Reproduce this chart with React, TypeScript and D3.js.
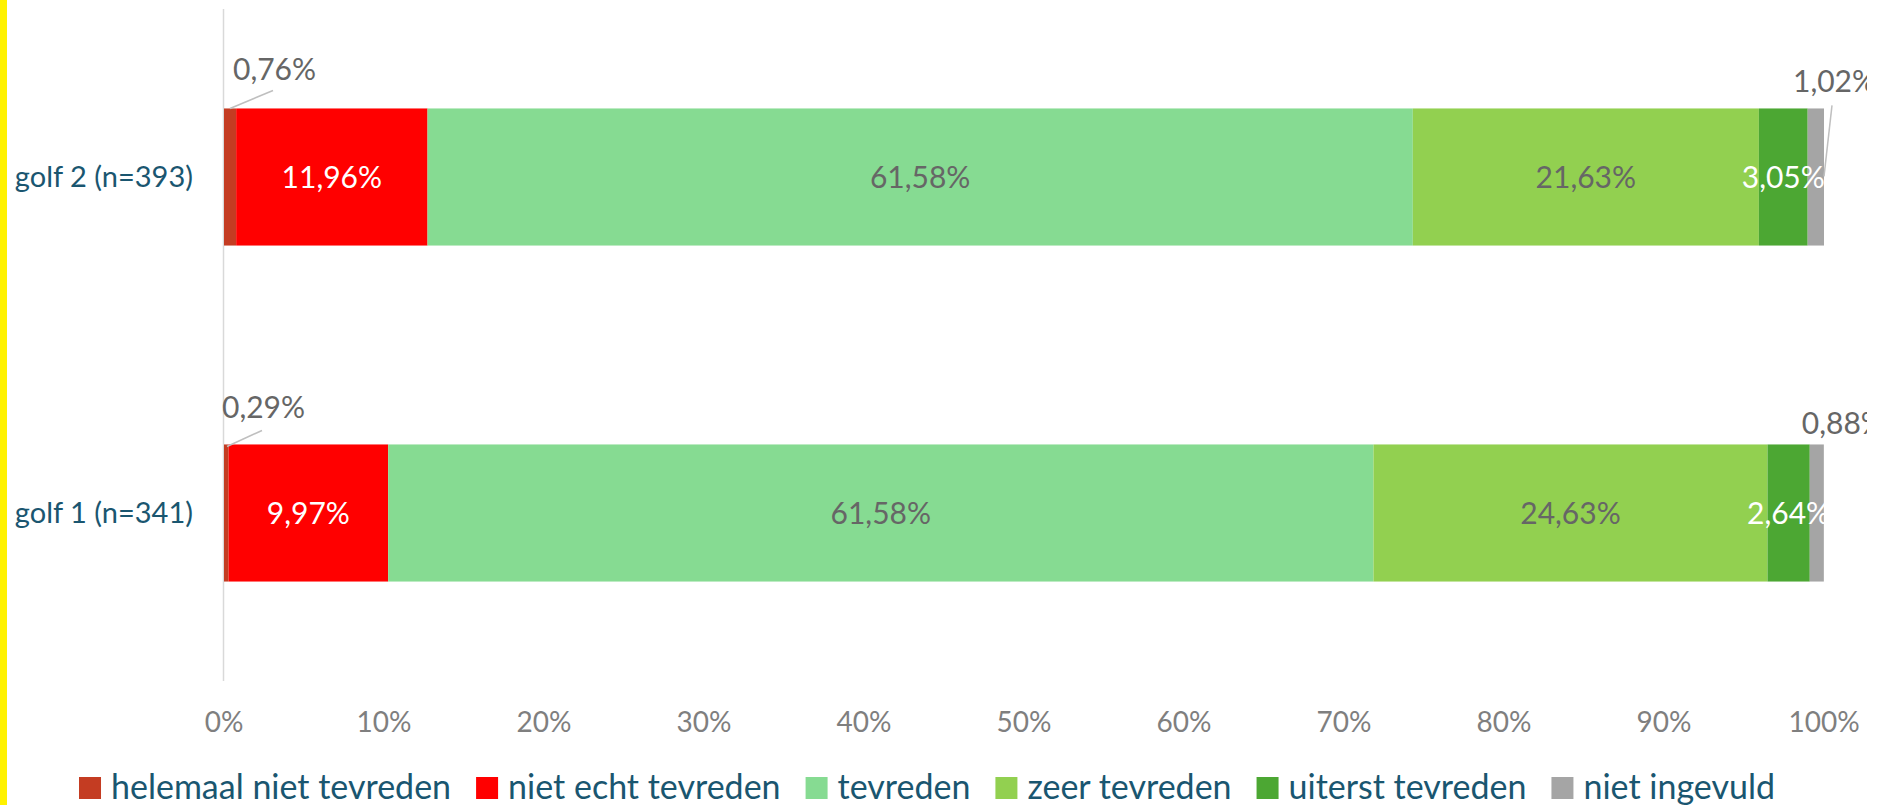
import React, { useEffect, useRef } from "react";
import * as d3 from "d3";

const categories = ["golf 2 (n=393)", "golf 1 (n=341)"];
const seriesNames = [
  "helemaal niet tevreden",
  "niet echt tevreden",
  "tevreden",
  "zeer tevreden",
  "uiterst tevreden",
  "niet ingevuld",
];
const seriesColors = ["#C43C22", "#FF0000", "#86DB92", "#92D050", "#4CA733", "#A5A5A5"];
const labelColors = ["#666666", "#FFFFFF", "#666666", "#666666", "#FFFFFF", "#666666"];
const golf2Values = [0.76, 11.96, 61.58, 21.63, 3.05, 1.02];
const golf1Values = [0.29, 9.97, 61.58, 24.63, 2.64, 0.88];
const tickValues = [0, 10, 20, 30, 40, 50, 60, 70, 80, 90, 100];

// outside label placements (relative offsets, Excel-like leader lines)
const outsideLabels = [
  { cat: 0, s: 0, side: "start", lx: 9, ly: -28, line: [6, 0, 49, -18] },
  { cat: 1, s: 0, side: "start", lx: -2, ly: -26, line: [3, 2, 38, -14] },
  { cat: 0, s: 5, side: "end", lx: -31, ly: -16, line: [0, 68, 8, -3] },
  { cat: 1, s: 5, side: "end", lx: -22, ly: -10, line: null },
];

const FONT = "Lato, 'Open Sans', sans-serif";

export default function App() {
  const ref = useRef<SVGSVGElement | null>(null);

  useEffect(() => {
    const svg = d3.select(ref.current);
    svg.selectAll("*").remove();

    const W = 1867;
    const H = 805;
    const plotLeft = 224;
    const plotRight = 1824;
    const plotTop = 9;
    const plotBottom = 681;

    svg.append("rect").attr("x", 0).attr("y", 0).attr("width", W).attr("height", H).attr("fill", "#fff");
    svg.append("rect").attr("x", 0).attr("y", 0).attr("width", 7).attr("height", H).attr("fill", "#FFF200");

    const x = d3.scaleLinear().domain([0, 100]).range([plotLeft, plotRight]);
    const y = d3
      .scaleBand<string>()
      .domain(categories)
      .range([plotTop, plotBottom])
      .paddingInner(0.592)
      .paddingOuter(0.296);

    const data = [golf2Values, golf1Values];

    // axis line
    svg
      .append("line")
      .attr("x1", x(0) - 0.5)
      .attr("x2", x(0) - 0.5)
      .attr("y1", plotTop)
      .attr("y2", plotBottom)
      .attr("stroke", "#D9D9D9")
      .attr("stroke-width", 1.5);

    // tick labels
    svg
      .append("g")
      .selectAll("text")
      .data(tickValues)
      .join("text")
      .attr("x", (d) => x(d))
      .attr("y", plotBottom + 51)
      .attr("text-anchor", "middle")
      .attr("font-family", FONT)
      .attr("font-size", 28)
      .attr("fill", "#7F7F7F")
      .text((d) => d + "%");

    // category labels
    svg
      .append("g")
      .selectAll("text")
      .data(categories)
      .join("text")
      .attr("x", 193)
      .attr("y", (d) => (y(d) as number) + y.bandwidth() / 2 + 10)
      .attr("text-anchor", "end")
      .attr("font-family", FONT)
      .attr("font-size", 29)
      .attr("fill", "#1A5670")
      .text((d) => d);

    const fmt = (v: number) => v.toFixed(2).replace(".", ",") + "%";

    categories.forEach((cat, ci) => {
      const vals = data[ci];
      const starts = d3.cumsum([0, ...vals]);
      const g = svg.append("g");
      const y0 = y(cat) as number;
      const bw = y.bandwidth();
      g.selectAll("rect")
        .data(vals)
        .join("rect")
        .attr("x", (_d, i) => x(starts[i]))
        .attr("y", y0)
        .attr("width", (d) => x(d) - x(0))
        .attr("height", bw)
        .attr("fill", (_d, i) => seriesColors[i]);

      g.selectAll("text")
        .data(vals.map((v, i) => ({ v, i })).filter((d) => d.v >= 2))
        .join("text")
        .attr("x", (d) => x(starts[d.i] + d.v / 2))
        .attr("y", y0 + bw / 2 + 11)
        .attr("text-anchor", "middle")
        .attr("font-family", FONT)
        .attr("font-size", 30)
        .attr("fill", (d) => labelColors[d.i])
        .text((d) => fmt(d.v));
    });

    // outside labels
    outsideLabels.forEach((o) => {
      const cat = categories[o.cat];
      const vals = data[o.cat];
      const starts = d3.cumsum([0, ...vals]);
      const y0 = y(cat) as number;
      const ax = o.side === "start" ? x(starts[o.s]) : x(starts[o.s] + vals[o.s]);
      if (o.line) {
        svg
          .append("line")
          .attr("x1", ax + o.line[0])
          .attr("y1", y0 + o.line[1])
          .attr("x2", ax + o.line[2])
          .attr("y2", y0 + o.line[3])
          .attr("stroke", "#BFBFBF")
          .attr("stroke-width", 1.5);
      }
      svg
        .append("text")
        .attr("x", ax + o.lx)
        .attr("y", y0 + o.ly)
        .attr("font-family", FONT)
        .attr("font-size", 30)
        .attr("fill", "#666666")
        .text(fmt(vals[o.s]));
    });

    // legend
    const lg = svg.append("g");
    const sw = 22;
    const gapText = 10;
    const gapItem = 25;
    const items = seriesNames.map((name, i) => {
      const gi = lg.append("g");
      gi.append("rect").attr("width", sw).attr("height", sw).attr("y", 777).attr("fill", seriesColors[i]);
      const t = gi
        .append("text")
        .attr("x", sw + gapText)
        .attr("y", 799)
        .attr("font-family", FONT)
        .attr("font-size", 34)
        .attr("fill", "#1A5670")
        .text(name);
      const w = (t.node() as SVGTextElement).getComputedTextLength();
      return { gi, w: sw + gapText + w };
    });
    const total = d3.sum(items, (d) => d.w) + gapItem * (items.length - 1);
    let cx = 927 - total / 2;
    items.forEach((it) => {
      it.gi.attr("transform", `translate(${cx},0)`);
      cx += it.w + gapItem;
    });
  }, []);

  return (
    <svg
      ref={ref}
      width={1867}
      height={805}
      style={{ position: "absolute", left: 0, top: 0, overflow: "hidden", display: "block" }}
    />
  );
}
